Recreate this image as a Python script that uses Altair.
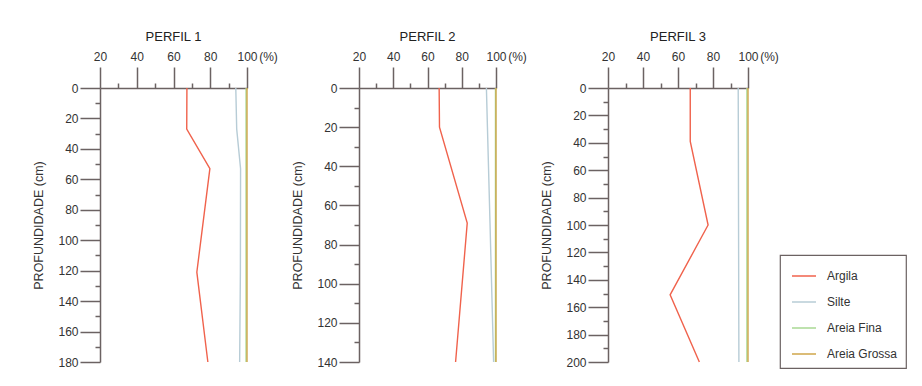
import altair as alt
import pandas as pd

series = ["Argila", "Silte", "Areia Fina", "Areia Grossa"]
colors = ["#f0624c", "#b7ccd6", "#a9d993", "#cfa64a"]

# Perfil 1
p1_depth = [0, 27, 53, 121, 180]
p1_argila = [67.3, 67.2, 79.8, 72.7, 78.7]
p1_silte = [93.9, 94.4, 96.5, 96.4, 96.0]
p1_fina = [99.5, 99.5, 99.5, 99.5, 99.5]
p1_grossa = [100, 100, 100, 100, 100]

# Perfil 2
p2_depth = [0, 20, 69, 140]
p2_argila = [66.8, 67.0, 83.2, 76.4]
p2_silte = [94.4, 95.0, 96.5, 98.6]
p2_fina = [99.7, 99.7, 99.7, 99.7]
p2_grossa = [100, 100, 100, 100]

# Perfil 3
p3_depth = [0, 39, 100, 151, 200]
p3_argila = [67.0, 67.0, 77.2, 55.5, 72.2]
p3_silte = [94.4, 94.5, 94.6, 94.7, 94.8]
p3_fina = [99.4, 99.4, 99.4, 99.4, 99.4]
p3_grossa = [100, 100, 100, 100, 100]

x_major = [20, 40, 60, 80, 100]
x_minor = [30, 50, 70, 90]

FONT = "Liberation Sans"
AX = "#6b6262"
TXT = "#333333"


def make_df(depth, cols):
    rows = []
    for name, vals in zip(series, cols):
        for d, v in zip(depth, vals):
            rows.append({"depth": d, "value": v, "serie": name})
    return pd.DataFrame(rows)


def panel(title, depth, cols, ymax, width):
    df = make_df(depth, cols)
    y_major = list(range(0, ymax + 1, 20))
    y_minor = list(range(10, ymax, 20))
    xs = alt.Scale(domain=[20, 100], nice=False, zero=False)
    ys = alt.Scale(domain=[0, ymax], reverse=True, nice=False, zero=False)
    color = alt.Color(
        "serie:N",
        scale=alt.Scale(domain=series, range=colors),
        legend=alt.Legend(title=None),
    )
    lines = alt.Chart(df).mark_line(strokeWidth=1.4).encode(
        x=alt.X("value:Q", scale=xs, axis=alt.Axis(
            orient="top", values=x_major, tickSize=21, labelPadding=4,
            labelFlush=False, labelOverlap=False,
            title="(%)", titleX=width + 21, titleY=-25, titleAngle=0,
            titleAlign="center", titleBaseline="bottom",
            titleFontWeight="normal", titleFontSize=12, titleColor=TXT,
            grid=False)),
        y=alt.Y("depth:Q", scale=ys, axis=alt.Axis(
            orient="left", values=y_major, tickSize=20, labelPadding=2,
            labelFlush=False, labelOverlap=False,
            title="PROFUNDIDADE (cm)", titlePadding=12,
            titleFontWeight="normal", titleFontSize=12.5, titleColor=TXT,
            grid=False)),
        color=color,
        order=alt.Order("depth:Q"),
    )
    minor = alt.Chart(df).mark_line(opacity=0).encode(
        x=alt.X("value:Q", scale=xs, axis=alt.Axis(
            orient="top", values=x_minor, tickSize=5, labels=False,
            domain=False, title="", grid=False)),
        y=alt.Y("depth:Q", scale=ys, axis=alt.Axis(
            orient="left", values=y_minor, tickSize=5, labels=False,
            domain=False, title="", grid=False)),
        color=color,
        order=alt.Order("depth:Q"),
    )
    return alt.layer(lines, minor).resolve_axis(
        x="independent", y="independent"
    ).properties(
        width=width, height=274,
        title=alt.TitleParams(title, fontSize=13, fontWeight="normal",
                              anchor="middle", color="#222222", font=FONT,
                              offset=6),
    )


p1 = panel("PERFIL 1", p1_depth, [p1_argila, p1_silte, p1_fina, p1_grossa], 180, 147)
p2 = panel("PERFIL 2", p2_depth, [p2_argila, p2_silte, p2_fina, p2_grossa], 140, 137)
p3 = panel("PERFIL 3", p3_depth, [p3_argila, p3_silte, p3_fina, p3_grossa], 200, 140)

chart = alt.hconcat(p1, p2, p3, spacing=112, bounds="flush").properties(
    padding={"left": 24, "top": 22, "right": 5, "bottom": 5},
    background="white",
).configure_view(
    stroke="transparent"
).configure_axis(
    labelFont=FONT, titleFont=FONT, labelFontSize=12, labelColor=TXT,
    domainColor=AX, tickColor=AX, domainWidth=1.5, tickWidth=1.5,
).configure_legend(
    orient="none", legendX=680, legendY=167,
    strokeColor=AX, strokeWidth=1.2, padding=8,
    symbolType="stroke", symbolSize=576, symbolStrokeWidth=1.5,
    symbolOffset=3,
    labelFont=FONT, labelFontSize=12, labelColor=TXT,
    rowPadding=7, labelOffset=10,
)

chart.save("out.html", embed_options={"renderer": "svg", "actions": False})
